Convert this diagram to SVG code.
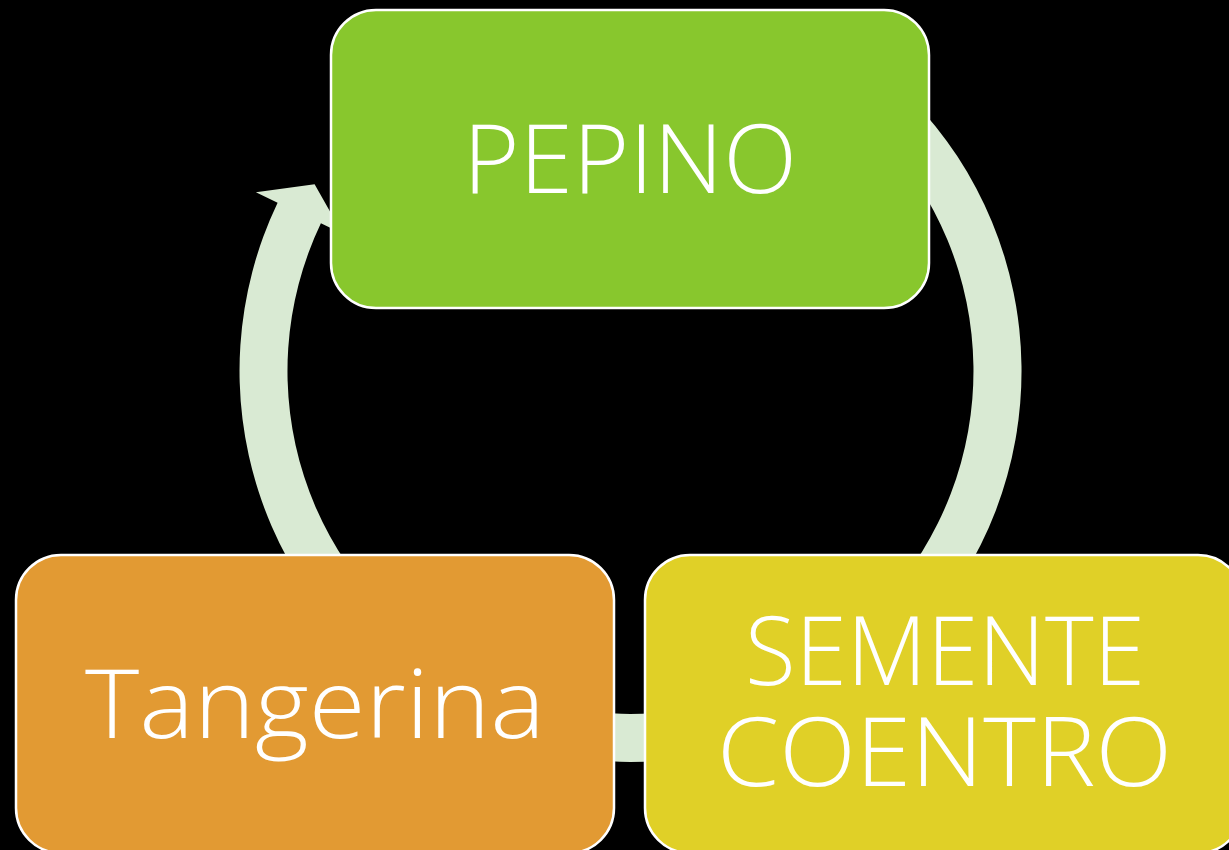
<svg xmlns="http://www.w3.org/2000/svg" width="1229" height="850" viewBox="0 0 1229 850">
  <style>
    .box { stroke: #FFFFFF; stroke-width: 2.5; }
    .lbl { font-family: "Open Sans", "Liberation Sans", Arial, sans-serif; font-weight: 300; font-size: 95px; fill: #FFFFFF; }
  </style>
  <rect x="0" y="0" width="1229" height="850" fill="#000000"/>
  <g id="connectors">
    <path fill="#D9EAD3" d="M 854.8 50.7 A 391 391 0 1 1 277.6 202.7 L 255.9 192.3 L 314.6 184.2 L 342.6 233.7 L 320.9 223.3 A 343 343 0 1 0 827.2 90 Z"/>
  </g>
  <g id="node-pepino">
    <rect class="box" x="331" y="10" width="598" height="298" rx="45" ry="45" fill="#88C72D"/>
    <text class="lbl" x="463" y="193" textLength="334" lengthAdjust="spacingAndGlyphs">PEPINO</text>
  </g>
  <g id="node-tangerina">
    <rect class="box" x="16" y="555" width="598" height="298" rx="45" ry="45" fill="#E29A33"/>
    <text class="lbl" x="85" y="738" textLength="460" lengthAdjust="spacingAndGlyphs">Tangerina</text>
  </g>
  <g id="node-semente">
    <rect class="box" x="645" y="555" width="598" height="298" rx="45" ry="45" fill="#E0D027"/>
    <text class="lbl"><tspan x="745" y="685" textLength="400" lengthAdjust="spacingAndGlyphs">SEMENTE</tspan><tspan x="717" y="786" textLength="455" lengthAdjust="spacingAndGlyphs">COENTRO</tspan></text>
  </g>
</svg>
